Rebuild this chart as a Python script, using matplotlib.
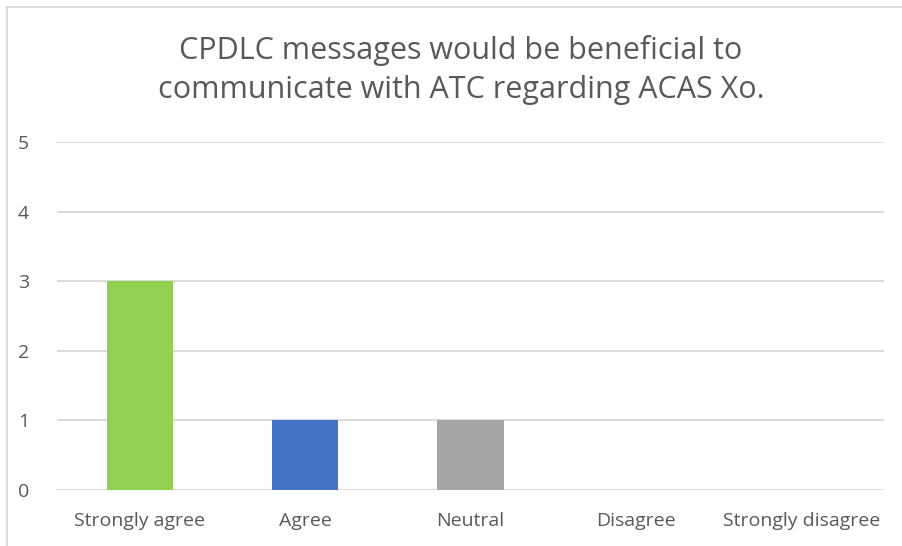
import matplotlib
matplotlib.use('Agg')
import matplotlib.pyplot as plt
from matplotlib.lines import Line2D

plt.rcParams['font.family'] = ['Open Sans', 'DejaVu Sans']

categories = ['Strongly agree', 'Agree', 'Neutral', 'Disagree', 'Strongly disagree']
counts = [3, 1, 1, 0, 0]
bar_colors = ['#92D050', '#4472C4', '#A5A5A5', '#FFC000', '#5B9BD5']
title = 'CPDLC messages would be beneficial to\ncommunicate with ATC regarding ACAS Xo.'

W, H = 902, 546
fig = plt.figure(figsize=(W / 100, H / 100), dpi=100)
ax = fig.add_axes([57 / W, 1 - 490 / H, (884 - 57) / W, (490 - 142) / H])

x = range(len(categories))
ax.bar(x, counts, width=0.4, color=bar_colors, zorder=3)
ax.set_xlim(-0.5, len(categories) - 0.5)
ax.set_ylim(0, 5)
ax.set_yticks(range(6))
ax.set_xticks(list(x))
ax.set_xticklabels(categories)
ax.grid(axis='y', color='#D9D9D9', linewidth=1.3, zorder=0)
for s in ax.spines.values():
    s.set_visible(False)
ax.tick_params(axis='both', length=0, colors='#595959', labelsize=14)
ax.tick_params(axis='y', pad=20)
ax.tick_params(axis='x', pad=16)

fig.text(461 / W, 1 - 70 / H, title, ha='center', va='center',
         fontsize=22, color='#595959', linespacing=1.35)

# chart border (only top and left visible in the crop)
fig.add_artist(Line2D([7.5 / W, 7.5 / W], [0, 1 - 6.5 / H], transform=fig.transFigure,
                      color='#D9D9D9', linewidth=1.3))
fig.add_artist(Line2D([7.5 / W, 1], [1 - 6.5 / H, 1 - 6.5 / H], transform=fig.transFigure,
                      color='#D9D9D9', linewidth=1.3))

fig.savefig('out.png', dpi=100, facecolor='white')
